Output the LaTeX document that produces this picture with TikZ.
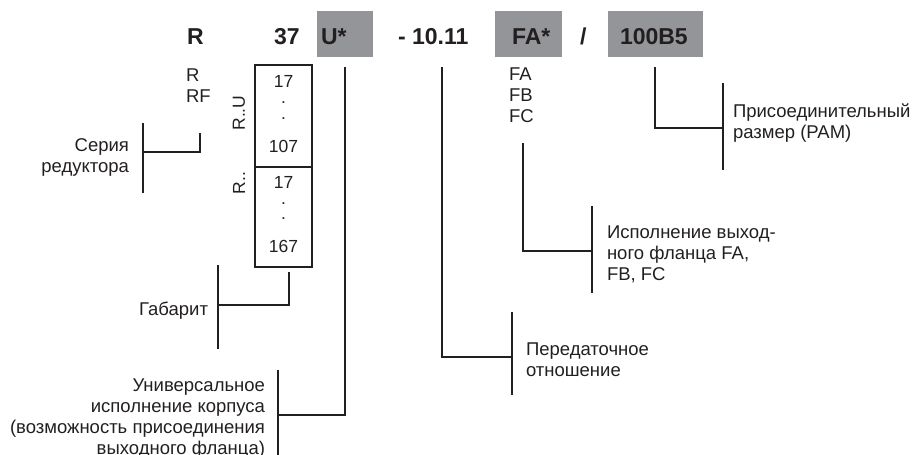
\documentclass[tikz,border=0pt]{standalone}
\usepackage{fontspec}
\setmainfont{Liberation Sans}
\definecolor{ink}{RGB}{35,31,32}
\definecolor{boxgrey}{RGB}{148,149,152}
\begin{document}
\begin{tikzpicture}[x=1pt,y=-1pt,
  every node/.style={inner sep=0pt,outer sep=0pt,text=ink},
  head/.style={font=\fontsize{23}{27}\selectfont\bfseries,anchor=base west},
  lbl/.style={font=\fontsize{18.5}{21}\selectfont},
  num/.style={font=\fontsize{17.5}{21}\selectfont},
  greybox/.style={fill=boxgrey,draw=none},
  conn/.style={draw=ink,line width=2pt},
  frame/.style={draw=ink,line width=2pt}]
\useasboundingbox (0,0) rectangle (913,455);
% grey boxes
\fill[boxgrey] (317,11) rectangle (373,57);
\fill[boxgrey] (495,11) rectangle (562,57);
\fill[boxgrey] (608,11) rectangle (703,57);
% header
\node[head] (hR)   at (187,44) {R};
\node[head] (h37)  at (274,44) {37};
\node[head] (hU)   at (321,44) {U*};
\node[head] (hRat) at (398,44) {- 10.11};
\node[head] (hFA)  at (512,44) {FA*};
\node[head] (hSl)  at (580,44) {/};
\node[head] (hB5)  at (620,44) {100B5};
% sub labels (base anchor = last line)
\node[lbl,anchor=base west,align=left] (ser) at (186,102) {R\\RF};
\node[lbl,anchor=base west,align=left] (fl) at (509,122) {FA\\FB\\FC};
% size frame
\draw[frame] (255,65) rectangle (312,267);
\draw[frame] (255,167) -- (312,167);
\node[num,anchor=base] (s1) at (283.5,87) {17};
\node[num,anchor=base] (s2) at (283.5,103) {.};
\node[num,anchor=base] (s3) at (283.5,119) {.};
\node[num,anchor=base] (s4) at (283.5,152) {107};
\node[num,anchor=base] (s5) at (283.5,188) {17};
\node[num,anchor=base] (s6) at (283.5,204) {.};
\node[num,anchor=base] (s7) at (283.5,219) {.};
\node[num,anchor=base] (s8) at (283.5,252) {167};
\node[num,rotate=90] (rU) at (239,113) {R..U};
\node[num,rotate=90] (rR) at (239,183) {R..};
% coordinates for connectors
\coordinate (c1a) at (200,133); \coordinate (c1b) at (143,152);
\coordinate (b1t) at (143,123); \coordinate (b1b) at (143,193);
\coordinate (c2a) at (289,272); \coordinate (c2b) at (218,305);
\coordinate (b2t) at (218,265); \coordinate (b2b) at (218,349);
\coordinate (c3a) at (345,67); \coordinate (c3b) at (278,415);
\coordinate (b3t) at (278,370); \coordinate (b3b) at (278,456);
\coordinate (c4a) at (442,67); \coordinate (c4b) at (512,357);
\coordinate (b4t) at (512,312); \coordinate (b4b) at (512,395);
\coordinate (c5a) at (523,143); \coordinate (c5b) at (592,251);
\coordinate (b5t) at (592,206); \coordinate (b5b) at (592,293);
\coordinate (c6a) at (655,67); \coordinate (c6b) at (723,128);
\coordinate (b6t) at (723,83); \coordinate (b6b) at (723,170);
\draw[conn] (c1a) |- (c1b); \draw[conn] (b1t) -- (b1b);
\draw[conn] (c2a) |- (c2b); \draw[conn] (b2t) -- (b2b);
\draw[conn] (c3a) |- (c3b); \draw[conn] (b3t) -- (b3b);
\draw[conn] (c4a) |- (c4b); \draw[conn] (b4t) -- (b4b);
\draw[conn] (c5a) |- (c5b); \draw[conn] (b5t) -- (b5b);
\draw[conn] (c6a) |- (c6b); \draw[conn] (b6t) -- (b6b);
% descriptions (base anchor = last line)
\node[lbl,anchor=base east,align=right] (tSer) at (129,172) {Серия\\редуктора};
\node[lbl,anchor=base east,align=right] (tGab) at (208,315) {Габарит};
\node[lbl,anchor=base east,align=right] (tUni) at (265,454) {Универсальное\\исполнение корпуса\\(возможность присоединения\\выходного фланца)};
\node[lbl,anchor=base west,align=left] (tRat) at (526,376) {Передаточное\\отношение};
\node[lbl,anchor=base west,align=left] (tFl) at (607,280) {Исполнение выход-\\ного фланца FA,\\FB, FC};
\node[lbl,anchor=base west,align=left] (tPam) at (733,138) {Присоединительный\\размер (PAM)};
\end{tikzpicture}
\end{document}
